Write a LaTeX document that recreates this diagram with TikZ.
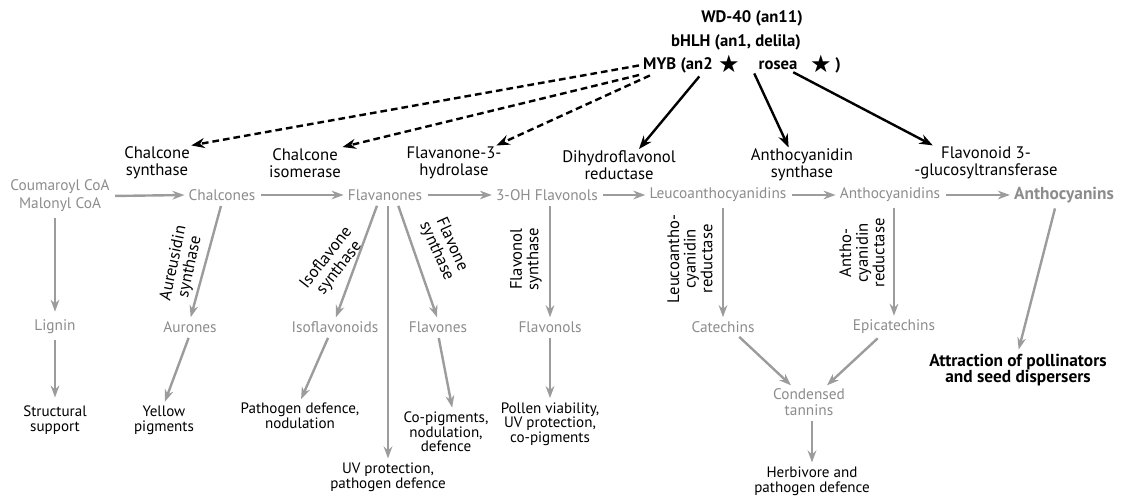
\documentclass[tikz,border=0pt]{standalone}
\usepackage{fontspec}
\setmainfont{PT Sans}
\newfontfamily\starfont{DejaVu Sans}
\usetikzlibrary{arrows.meta, positioning}
\definecolor{pathgray}{HTML}{8C8C8C}
\definecolor{arrowgray}{HTML}{9C9C9C}

\begin{document}
\begin{tikzpicture}[x=0.75pt, y=-0.75pt,
    compound/.style={text=pathgray, font=\fontsize{11.5}{13}\selectfont, inner sep=1pt, align=center},
    enzyme/.style={font=\fontsize{12.5}{12.5}\selectfont, inner sep=1pt, align=center},
    effect/.style={font=\fontsize{11.3}{11}\selectfont, inner sep=1pt, align=center},
    regulator/.style={font=\bfseries\fontsize{12.5}{13}\selectfont, inner sep=1pt},
    regstar/.style={inner sep=0pt, font=\starfont\fontsize{18}{18}\selectfont},
    flow/.style={-{Stealth[length=9pt, width=6.5pt]}, draw=arrowgray, line width=1.8pt, shorten <=3pt, shorten >=2pt},
    control/.style={-{Stealth[length=10pt, width=7.5pt]}, line width=1.8pt, shorten <=2pt},
    putative/.style={control, dash pattern=on 5pt off 3pt}
]
    \useasboundingbox (0,0) rectangle (1122,498);

    % Regulators
    \node[regulator] (wd40) at (752,18) {WD-40 (an11)};
    \node[regulator] (bhlh) at (736,42) {bHLH (an1, delila)};
    \node[regulator] (myb) at (678,65) {MYB (an2};
    \node[regstar] (mybstar) at (729,64) {★};
    \node[regulator] (rosea) at (778,65) {rosea};
    \node[regstar] (roseastar) at (821,64) {★};
    \node[regulator] (close) at (838,65) {)};

    % Enzymes on the main route
    \node[enzyme] (chs) at (157,163) {Chalcone\\synthase};
    \node[enzyme] (chi) at (305,163) {Chalcone\\isomerase};
    \node[enzyme] (f3h) at (454,163) {Flavanone-3-\\hydrolase};
    \node[enzyme] (dfr) at (619,165) {Dihydroflavonol\\reductase};
    \node[enzyme] (ans) at (802,165) {Anthocyanidin\\synthase};
    \node[enzyme] (gt) at (986,163) {Flavonoid 3-\\-glucosyltransferase};

    % Main route
    \node[compound, font=\fontsize{11.5}{13.5}\selectfont] (coa) at (60,196) {Coumaroyl CoA\\Malonyl CoA};
    \node[compound] (chalcones) at (222,195) {Chalcones};
    \node[compound] (flavanones) at (385,195) {Flavanones};
    \node[compound] (ohflavonols) at (547,195) {3-OH Flavonols};
    \node[compound] (leuco) at (718,195) {Leucoanthocyanidins};
    \node[compound] (anthocyanidins) at (890,195) {Anthocyanidins};
    \node[compound, font=\bfseries\fontsize{13}{13}\selectfont] (anthocyanins) at (1064,195) {Anthocyanins};

    % Side products
    \node[compound] (lignin) at (55,327) {Lignin};
    \node[compound] (aurones) at (190,327) {Aurones};
    \node[compound] (isoflavonoids) at (335,327) {Isoflavonoids};
    \node[compound] (flavones) at (438,327) {Flavones};
    \node[compound] (flavonols) at (550,327) {Flavonols};
    \node[compound] (catechins) at (723,327) {Catechins};
    \node[compound] (epicatechins) at (894,327) {Epicatechins};
    \node[compound, font=\fontsize{11.5}{11.5}\selectfont] (tannins) at (809,402) {Condensed\\tannins};

    % Side enzymes
    \node[enzyme, rotate=78] (aus) at (182,265) {Aureusidin\\synthase};
    \node[enzyme, rotate=52] (ifs) at (333,263) {Isoflavone\\synthase};
    \node[enzyme, rotate=-66] (fns) at (444,248) {Flavone\\synthase};
    \node[enzyme, rotate=90] (fls) at (526,259) {Flavonol\\synthase};
    \node[enzyme, rotate=90] (lar) at (690,259) {Leucoantho-\\cyanidin\\reductase};
    \node[enzyme, rotate=90] (anr) at (862,253) {Antho-\\cyanidin\\reductase};

    % Roles
    \node[effect] (structural) at (55,420) {Structural\\support};
    \node[effect] (yellow) at (164,420) {Yellow\\pigments};
    \node[effect] (pathogen) at (300,416) {Pathogen defence,\\nodulation};
    \node[effect] (uvprot) at (388,477) {UV protection,\\pathogen defence};
    \node[effect] (copig) at (446,432) {Co-pigments,\\nodulation,\\defence};
    \node[effect] (pollen) at (550,424) {Pollen viability,\\UV protection,\\co-pigments};
    \node[effect] (herbivore) at (812,481) {Herbivore and\\pathogen defence};
    \node[effect, font=\bfseries\fontsize{13}{12.5}\selectfont] (attraction) at (1018,370) {Attraction of pollinators\\and seed dispersers};

    % Regulation
    \draw[putative] (myb.west) -- (chs.north east);
    \draw[putative] (myb.south west) -- (chi.north east);
    \draw[putative] ([xshift=8pt]myb.south west) -- ([xshift=-5pt]f3h.north east);
    \draw[control] ([xshift=-10pt]myb.south east) -- ([xshift=15pt]dfr.north);
    \draw[control] ([xshift=-3pt]rosea.south west) -- ([xshift=-10pt]ans.north);
    \draw[control] ([xshift=-6pt]rosea.south east) -- ([xshift=15pt]gt.north west);

    % Main route arrows
    \draw[flow] (coa.east) -- (chalcones.west);
    \draw[flow] (chalcones) -- (flavanones);
    \draw[flow] (flavanones) -- (ohflavonols);
    \draw[flow] (ohflavonols) -- (leuco);
    \draw[flow] (leuco) -- (anthocyanidins);
    \draw[flow] (anthocyanidins) -- (anthocyanins);

    % Branches
    \draw[flow, shorten >=5pt] (coa.south -| lignin) -- (lignin);
    \draw[flow, shorten >=5pt] (lignin) -- (structural);
    \draw[flow] (chalcones.south) -- (aurones.north);
    \draw[flow] (aurones.south) -- (yellow.north);
    \draw[flow] ([xshift=-5pt]flavanones.south) -- (isoflavonoids.north);
    \draw[flow] (flavanones.south -| uvprot) -- (uvprot.north);
    \draw[flow] ([xshift=9pt]flavanones.south) -- (flavones.north);
    \draw[flow] ([xshift=-4pt]isoflavonoids.south) -- (pathogen.north);
    \draw[flow] (flavones.south) -- ([xshift=5pt]copig.north);
    \draw[flow] (ohflavonols.south -| flavonols) -- (flavonols.north);
    \draw[flow] (flavonols) -- (pollen);
    \draw[flow] (leuco.south -| catechins) -- (catechins.north);
    \draw[flow] (anthocyanidins.south -| epicatechins) -- (epicatechins.north);
    \draw[flow] ([xshift=10pt]catechins.south) -- ([xshift=-12pt]tannins.north);
    \draw[flow] ([xshift=-10pt]epicatechins.south) -- ([xshift=12pt]tannins.north);
    \draw[flow] (tannins.south -| herbivore) -- (herbivore.north);
    \draw[flow] ([xshift=-6pt]anthocyanins.south) -- (attraction.north);
\end{tikzpicture}
\end{document}
